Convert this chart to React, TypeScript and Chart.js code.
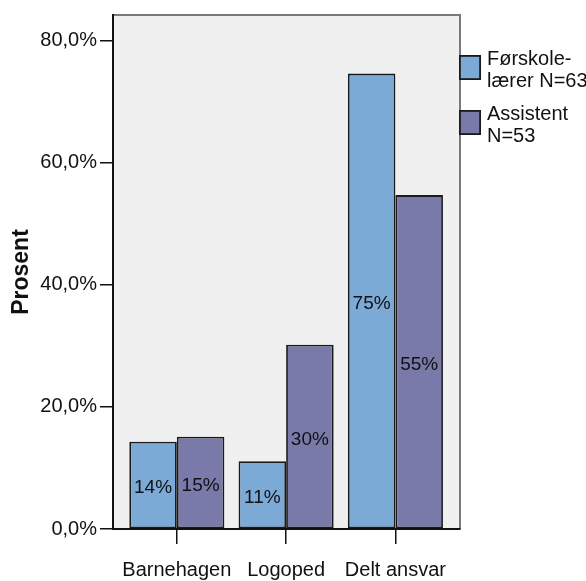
import React, { useEffect, useRef } from "react";
import { Chart, registerables } from "chart.js";

Chart.register(...registerables);

const categories = ["Barnehagen", "Logoped", "Delt ansvar"];
const forskoleValues = [14.3, 11.1, 74.6];
const assistentValues = [15.1, 30.2, 54.7];
const seriesLabels = ["Førskolelærer N=63", "Assistent N=53"];
const legendLines = [
  ["Førskole-", "lærer N=63"],
  ["Assistent", "N=53"],
];
const yTicks = [0, 20, 40, 60, 80];
const yAxisTitle = "Prosent";

const FONT = "'Liberation Sans', Arial, sans-serif";
const COLORS = ["#7BAAD7", "#7A7AAA"];

const framePlugin = {
  id: "frame",
  beforeDraw(chart: any) {
    const { ctx, chartArea } = chart;
    const { left, top, right, bottom } = chartArea;
    ctx.save();
    ctx.fillStyle = "#F0F0F0";
    ctx.fillRect(left, top, right - left, bottom - top);
    ctx.strokeStyle = "#7a7a7a";
    ctx.lineWidth = 2;
    ctx.beginPath();
    ctx.moveTo(left, top);
    ctx.lineTo(right, top);
    ctx.lineTo(right, bottom);
    ctx.stroke();
    ctx.restore();
  },
};

const labelPlugin = {
  id: "barLabels",
  afterDatasetsDraw(chart: any) {
    const { ctx } = chart;
    ctx.save();
    ctx.font = `19px ${FONT}`;
    ctx.fillStyle = "#111";
    ctx.textAlign = "center";
    ctx.textBaseline = "middle";
    chart.data.datasets.forEach((ds: any, di: number) => {
      const meta = chart.getDatasetMeta(di);
      meta.data.forEach((el: any, i: number) => {
        const p = el.getProps(["x", "y", "base"], true);
        const v = ds.data[i].y;
        ctx.fillText(`${Math.round(v)}%`, p.x, (p.y + p.base) / 2 + 3);
      });
    });
    ctx.restore();
  },
};

const legendPlugin = {
  id: "customLegend",
  afterDraw(chart: any) {
    const { ctx, chartArea } = chart;
    ctx.save();
    const boxX = chartArea.right - 1;
    const boxW = 22;
    const boxH = 25;
    const startY = 55;
    const itemGap = 55;
    const lineH = 22.5;
    chart.data.datasets.forEach((ds: any, di: number) => {
      const y = startY + di * itemGap;
      ctx.fillStyle = ds.backgroundColor;
      ctx.fillRect(boxX, y, boxW, boxH);
      ctx.strokeStyle = "#1a1a1a";
      ctx.lineWidth = 1.8;
      ctx.strokeRect(boxX + 0.9, y + 0.9, boxW - 1.8, boxH - 1.8);
      ctx.fillStyle = "#111";
      ctx.font = `20px ${FONT}`;
      ctx.textAlign = "left";
      ctx.textBaseline = "middle";
      legendLines[di].forEach((line, li) => {
        ctx.fillText(line, boxX + boxW + 6, y + 4 + li * lineH);
      });
    });
    ctx.restore();
  },
};

export default function App() {
  const canvasRef = useRef<HTMLCanvasElement | null>(null);

  useEffect(() => {
    if (!canvasRef.current) return;
    const chart = new Chart(canvasRef.current, {
      type: "bar",
      data: {
        datasets: [
          {
            label: seriesLabels[0],
            data: categories.map((_, i) => ({ x: i, y: forskoleValues[i] })),
            backgroundColor: COLORS[0],
            borderColor: "#1a1a1a",
            borderWidth: 1.8,
            borderSkipped: false,
          },
          {
            label: seriesLabels[1],
            data: categories.map((_, i) => ({ x: i, y: assistentValues[i] })),
            backgroundColor: COLORS[1],
            borderColor: "#1a1a1a",
            borderWidth: 1.8,
            borderSkipped: false,
          },
        ],
      },
      options: {
        animation: false,
        responsive: true,
        maintainAspectRatio: false,
        categoryPercentage: 0.87,
        barPercentage: 1.0,
        layout: { padding: { top: 10, right: 126, left: 0, bottom: 0 } },
        plugins: {
          legend: { display: false },
          tooltip: { enabled: false },
        },
        scales: {
          x: {
            type: "linear",
            offset: false,
            min: -0.584,
            max: 2.591,
            afterBuildTicks: (scale: any) => {
              scale.ticks = categories.map((_, i) => ({ value: i }));
            },
            afterFit: (scale: any) => {
              scale.height = 52;
            },
            ticks: {
              autoSkip: false,
              maxRotation: 0,
              padding: 14,
              color: "#111",
              font: { family: FONT, size: 20 },
              callback: (v: any) => categories[Math.round(Number(v))] ?? "",
            },
            grid: {
              offset: false,
              drawOnChartArea: false,
              drawTicks: true,
              tickLength: 15,
              color: "#111",
              lineWidth: 1.5,
            },
            border: { display: true, color: "#111", width: 2 },
          },
          y: {
            min: 0,
            max: 84.2,
            afterBuildTicks: (scale: any) => {
              scale.ticks = yTicks.map((v) => ({ value: v }));
            },
            afterFit: (scale: any) => {
              scale.width = 113;
            },
            ticks: {
              padding: 3,
              color: "#111",
              font: { family: FONT, size: 20 },
              callback: (v: any) => Number(v).toFixed(1).replace(".", ",") + "%",
            },
            grid: {
              drawOnChartArea: false,
              drawTicks: true,
              tickLength: 13,
              color: "#111",
              lineWidth: 1.5,
            },
            border: { display: true, color: "#111", width: 2 },
            title: {
              display: true,
              text: yAxisTitle,
              color: "#111",
              font: { family: FONT, size: 23, weight: "bold" },
              padding: { top: 8, bottom: 0 },
            },
          },
        },
      },
      plugins: [framePlugin, labelPlugin, legendPlugin],
    } as any);
    return () => chart.destroy();
  }, []);

  return (
    <div style={{ position: "fixed", left: 0, top: 0, width: 586, height: 581 }}>
      <canvas ref={canvasRef} />
    </div>
  );
}
